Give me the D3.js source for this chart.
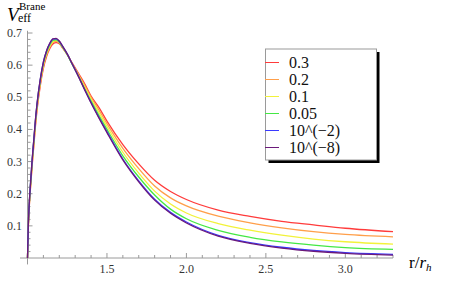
<!DOCTYPE html>
<html>
<head>
<meta charset="utf-8">
<script src="https://cdn.jsdelivr.net/npm/d3@7"></script>
</head>
<body style="margin:0">
<div id="chart"></div>
<script>
// r / r_h sample points
var rValues = [1.0, 1.005, 1.01, 1.02, 1.03, 1.04, 1.05, 1.06, 1.08, 1.10, 1.12, 1.14, 1.16, 1.18, 1.20, 1.22, 1.25, 1.28, 1.32, 1.36, 1.40, 1.45, 1.5, 1.6, 1.7, 1.8, 1.9, 2.0, 2.2, 2.4, 2.6, 2.8, 3.0, 3.3];

// V_eff values, one array per parameter
var v03 = [0, 0.092, 0.149, 0.225, 0.292, 0.35, 0.41, 0.46, 0.535, 0.59, 0.627, 0.651, 0.666, 0.67, 0.667, 0.654, 0.633, 0.608, 0.575, 0.542, 0.504, 0.468, 0.426, 0.353, 0.293, 0.242, 0.207, 0.182, 0.149, 0.1295, 0.114, 0.103, 0.0925, 0.082];
var v02 = [0, 0.094, 0.152, 0.229, 0.297, 0.356, 0.416, 0.466, 0.54, 0.596, 0.632, 0.656, 0.671, 0.674, 0.669, 0.655, 0.633, 0.606, 0.572, 0.537, 0.50, 0.46, 0.418, 0.341, 0.278, 0.224, 0.187, 0.162, 0.13, 0.1095, 0.094, 0.082, 0.0735, 0.066];
var v01 = [0, 0.096, 0.155, 0.233, 0.302, 0.362, 0.422, 0.472, 0.546, 0.601, 0.636, 0.659, 0.674, 0.677, 0.671, 0.656, 0.633, 0.605, 0.569, 0.531, 0.494, 0.452, 0.409, 0.329, 0.264, 0.208, 0.168, 0.14, 0.107, 0.0865, 0.071, 0.059, 0.0505, 0.043];
var v005 = [0, 0.098, 0.157, 0.236, 0.306, 0.366, 0.426, 0.476, 0.55, 0.605, 0.64, 0.663, 0.677, 0.679, 0.672, 0.657, 0.633, 0.604, 0.566, 0.526, 0.488, 0.443, 0.40, 0.318, 0.252, 0.196, 0.152, 0.122, 0.086, 0.0645, 0.05, 0.04, 0.0325, 0.027];
var v1e2 = [0, 0.10, 0.16, 0.24, 0.31, 0.37, 0.43, 0.48, 0.554, 0.609, 0.644, 0.667, 0.681, 0.682, 0.674, 0.659, 0.635, 0.605, 0.566, 0.524, 0.484, 0.437, 0.393, 0.308, 0.24, 0.183, 0.142, 0.112, 0.0705, 0.048, 0.0335, 0.0235, 0.017, 0.0115];
var v1e8 = [0, 0.10, 0.16, 0.24, 0.31, 0.37, 0.43, 0.48, 0.555, 0.61, 0.645, 0.668, 0.682, 0.683, 0.675, 0.66, 0.635, 0.605, 0.565, 0.523, 0.482, 0.435, 0.39, 0.305, 0.237, 0.18, 0.139, 0.109, 0.068, 0.0455, 0.031, 0.021, 0.0145, 0.009];

var seriesNames = ["0.3", "0.2", "0.1", "0.05", "10^(\u22122)", "10^(\u22128)"];
var seriesValues = [v03, v02, v01, v005, v1e2, v1e8];
var colors = ["#ff3b3b", "#ff9f4a", "#f2f23a", "#44e844", "#3a3aff", "#6b1a7a"];

var xMajor = [1.5, 2.0, 2.5, 3.0];
var yMajor = [0.1, 0.2, 0.3, 0.4, 0.5, 0.6, 0.7];

var width = 454, height = 283;
var serif = "Times New Roman";

var svg = d3.select("#chart")
    .append("svg")
    .attr("width", width)
    .attr("height", height)
    .style("font-family", serif);

var x = d3.scaleLinear().domain([1, 3.3]).range([27.5, 393]);
var y = d3.scaleLinear().domain([0, 0.7]).range([258, 33]);

var axisColor = "#9a9a9a";

// x axis line
svg.append("line")
    .attr("x1", x(0.953)).attr("x2", x(3.3))
    .attr("y1", y(0)).attr("y2", y(0))
    .attr("stroke", axisColor).attr("stroke-width", 1);

// y axis line
svg.append("line")
    .attr("x1", x(1)).attr("x2", x(1))
    .attr("y1", y(-0.02)).attr("y2", y(0.707))
    .attr("stroke", axisColor).attr("stroke-width", 1);

// x ticks: minor every 0.1, major every 0.5
var xTicks = d3.range(11, 34).map(function(d) { return d / 10; });
svg.selectAll(".xtick")
    .data(xTicks)
    .enter()
    .append("line")
    .attr("x1", function(d) { return x(d); })
    .attr("x2", function(d) { return x(d); })
    .attr("y1", y(0))
    .attr("y2", function(d) { return xMajor.some(function(m) { return Math.abs(m - d) < 1e-6; }) ? y(0) - 5 : y(0) - 3; })
    .attr("stroke", axisColor);

svg.selectAll(".xlabel")
    .data(xMajor)
    .enter()
    .append("text")
    .attr("x", function(d) { return x(d); })
    .attr("y", y(0) + 15)
    .attr("text-anchor", "middle")
    .style("font-family", serif)
    .style("font-size", "12px")
    .attr("fill", "#333")
    .text(function(d) { return d.toFixed(1); });

// y ticks: minor every 0.02, major every 0.1
var yTicks = d3.range(1, 36).map(function(d) { return d / 50; });
svg.selectAll(".ytick")
    .data(yTicks)
    .enter()
    .append("line")
    .attr("x1", x(1))
    .attr("x2", function(d) { return yMajor.some(function(m) { return Math.abs(m - d) < 1e-6; }) ? x(1) + 5 : x(1) + 3; })
    .attr("y1", function(d) { return y(d); })
    .attr("y2", function(d) { return y(d); })
    .attr("stroke", axisColor);

svg.selectAll(".ylabel")
    .data(yMajor)
    .enter()
    .append("text")
    .attr("x", 22)
    .attr("y", function(d) { return y(d) + 4; })
    .attr("text-anchor", "end")
    .style("font-family", serif)
    .style("font-size", "12px")
    .attr("fill", "#333")
    .text(function(d) { return d.toFixed(1); });

// curves
var line = d3.line()
    .x(function(d) { return x(d[0]); })
    .y(function(d) { return y(d[1]); })
    .curve(d3.curveMonotoneX);

seriesValues.forEach(function(vals, i) {
    var pts = rValues.map(function(r, j) { return [r, vals[j]]; });
    svg.append("path")
        .datum(pts)
        .attr("fill", "none")
        .attr("stroke", colors[i])
        .attr("stroke-width", 1.3)
        .attr("d", line);
});

// axis titles
var yTitle = svg.append("text").attr("x", 7).attr("y", 21).style("font-family", serif);
yTitle.append("tspan").style("font-size", "19px").style("font-style", "italic").text("V");
yTitle.append("tspan").attr("x", 18).attr("y", 22).style("font-size", "12px").text("eff");
svg.append("text").attr("x", 19).attr("y", 10)
    .style("font-family", serif).style("font-size", "11px").text("Brane");

var xTitle = svg.append("text").attr("x", 409).attr("y", 268)
    .style("font-family", serif).style("font-size", "17px");
xTitle.append("tspan").text("r/");
xTitle.append("tspan").style("font-style", "italic").text("r");
xTitle.append("tspan").attr("dy", 3).style("font-size", "11px").style("font-style", "italic").text("h");

// legend
var lg = svg.append("g");
lg.append("rect")
    .attr("x", 268.5).attr("y", 52)
    .attr("width", 111).attr("height", 111)
    .attr("fill", "#000");
lg.append("rect")
    .attr("x", 265.5).attr("y", 49)
    .attr("width", 111).attr("height", 111)
    .attr("fill", "#fff")
    .attr("stroke", axisColor);

seriesNames.forEach(function(name, i) {
    var cy = 62.5 + i * 17;
    lg.append("line")
        .attr("x1", 265).attr("x2", 279)
        .attr("y1", cy).attr("y2", cy)
        .attr("stroke", colors[i]).attr("stroke-width", 1);
    lg.append("text")
        .attr("x", 289).attr("y", cy + 5)
        .style("font-family", serif)
        .style("font-size", "16px")
        .attr("fill", "#111")
        .text(name);
});
</script>
</body>
</html>
